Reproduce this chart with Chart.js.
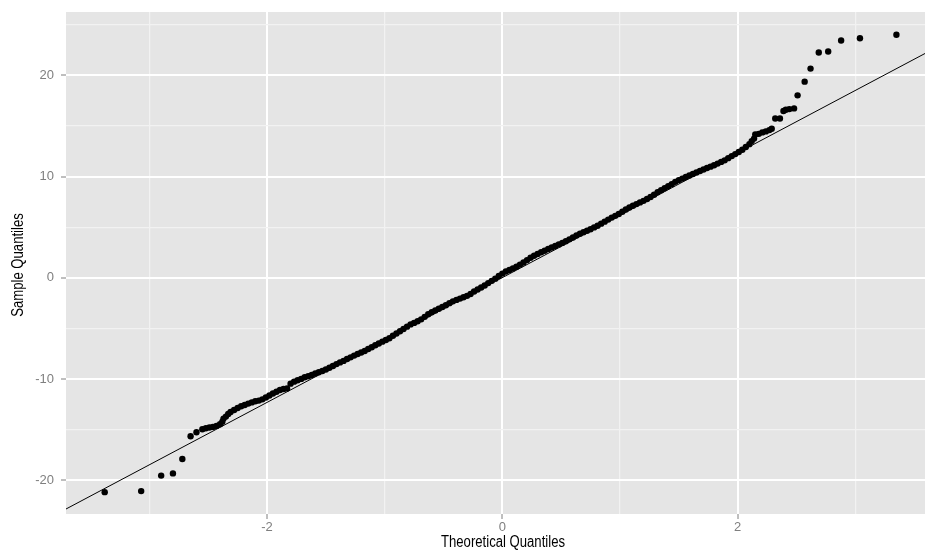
<!DOCTYPE html>
<html>
<head>
<meta charset="utf-8">
<title>Normal Q-Q plot</title>
<script src="https://cdn.jsdelivr.net/npm/chart.js@4.4.1/dist/chart.umd.min.js"></script>
<style>
  body { margin: 0; background: #ffffff; }
  canvas { display: block; }
</style>
</head>
<body>
<canvas id="qqChart" width="925" height="552"></canvas>
<script>
// theoretical quantiles (x) and matching sample quantiles (y)
const theoretical = [
    -3.38, -3.07, -2.90, -2.80, -2.72, -2.65, -2.60, -2.55, -2.52, -2.49,
    -2.46, -2.43, -2.40, -2.38, -2.37, -2.35, -2.33, -2.31,
    -2.28, -2.25, -2.22, -2.19, -2.16, -2.13, -2.10, -2.07, -2.04, -2.01,
    -1.98, -1.95, -1.92, -1.89, -1.86, -1.83, -1.80, -1.77, -1.74, -1.71,
    -1.68, -1.65, -1.62, -1.59, -1.56, -1.53, -1.50, -1.47, -1.44, -1.41,
    -1.38, -1.35, -1.32, -1.29, -1.26, -1.23, -1.20, -1.17, -1.14, -1.11,
    -1.08, -1.05, -1.02, -0.99, -0.96, -0.93, -0.90, -0.87, -0.84, -0.81,
    -0.78, -0.75, -0.72, -0.69, -0.66, -0.63, -0.60, -0.57, -0.54, -0.51,
    -0.48, -0.45, -0.42, -0.39, -0.36, -0.33, -0.30, -0.27, -0.24, -0.21,
    -0.18, -0.15, -0.12, -0.09, -0.06, -0.03, 0.00, 0.03, 0.06, 0.09,
    0.12, 0.15, 0.18, 0.21, 0.24, 0.27, 0.30, 0.33, 0.36, 0.39,
    0.42, 0.45, 0.48, 0.51, 0.54, 0.57, 0.60, 0.63, 0.66, 0.69,
    0.72, 0.75, 0.78, 0.81, 0.84, 0.87, 0.90, 0.93, 0.96, 0.99,
    1.02, 1.05, 1.08, 1.11, 1.14, 1.17, 1.20, 1.23, 1.26, 1.29,
    1.32, 1.35, 1.38, 1.41, 1.44, 1.47, 1.50, 1.53, 1.56, 1.59,
    1.62, 1.65, 1.68, 1.71, 1.74, 1.77, 1.80, 1.83, 1.86, 1.89,
    1.92, 1.95, 1.98, 2.01, 2.04, 2.07, 2.10, 2.12, 2.14,
    2.15, 2.18, 2.21, 2.24, 2.27, 2.29, 2.32, 2.36, 2.39, 2.41,
    2.44, 2.48, 2.51, 2.57, 2.62, 2.69, 2.77, 2.88, 3.04, 3.35
];
const sample = [
    -21.16, -21.06, -19.53, -19.31, -17.89, -15.64, -15.25, -14.95, -14.85, -14.78,
    -14.72, -14.62, -14.46, -14.20, -13.90, -13.70, -13.45, -13.25,
    -13.05, -12.85, -12.68, -12.55, -12.42, -12.30, -12.18, -12.12, -12.00, -11.82,
    -11.62, -11.42, -11.25, -11.08, -10.98, -10.92, -10.45, -10.25, -10.12, -9.98,
    -9.82, -9.72, -9.60, -9.45, -9.32, -9.20, -9.05, -8.88, -8.70, -8.52,
    -8.35, -8.20, -8.02, -7.85, -7.68, -7.52, -7.38, -7.22, -7.02, -6.85,
    -6.65, -6.48, -6.30, -6.14, -5.97, -5.72, -5.50, -5.28, -5.05, -4.82,
    -4.60, -4.45, -4.28, -4.10, -3.85, -3.60, -3.40, -3.22, -3.05, -2.88,
    -2.70, -2.50, -2.32, -2.18, -2.05, -1.92, -1.78, -1.60, -1.35, -1.15,
    -0.95, -0.75, -0.52, -0.30, -0.08, 0.18, 0.42, 0.62, 0.78, 0.92,
    1.10, 1.30, 1.52, 1.75, 1.98, 2.18, 2.35, 2.52, 2.68, 2.85,
    3.00, 3.15, 3.30, 3.45, 3.62, 3.80, 3.98, 4.18, 4.35, 4.50,
    4.65, 4.80, 4.98, 5.15, 5.35, 5.55, 5.75, 5.95, 6.12, 6.30,
    6.52, 6.75, 6.95, 7.12, 7.28, 7.45, 7.60, 7.78, 7.98, 8.20,
    8.45, 8.65, 8.85, 9.05, 9.25, 9.48, 9.65, 9.80, 9.95, 10.10,
    10.25, 10.40, 10.55, 10.70, 10.85, 10.98, 11.12, 11.28, 11.45, 11.60,
    11.82, 12.02, 12.22, 12.42, 12.65, 12.92, 13.20, 13.50, 13.75,
    14.16, 14.22, 14.36, 14.46, 14.59, 14.72, 15.74, 15.74, 16.47, 16.60,
    16.66, 16.73, 18.02, 19.37, 20.66, 22.25, 22.35, 23.43, 23.66, 24.00
];

// grid lines every unit, labels on the even ones only
const xTicks = [-3, -2, -1, 0, 1, 2, 3];
const xLabels = [-2, 0, 2];
const yTicks = [-20, -15, -10, -5, 0, 5, 10, 15, 20, 25];
const yLabels = [-20, -10, 0, 10, 20];

const xRange = [-3.709, 3.593];
const yRange = [-23.32, 26.25];

const xTitle = 'Theoretical Quantiles';
const yTitle = 'Sample Quantiles';

// reference line through the quartiles
const lineIntercept = 0.02;
const lineSlope = 6.16;

const points = theoretical.map((x, i) => ({ x: x, y: sample[i] }));
const refLine = xRange.map(x => ({ x: x, y: lineIntercept + lineSlope * x }));

const panelBackground = {
    id: 'panelBackground',
    beforeDraw(chart) {
        const { ctx, chartArea } = chart;
        ctx.save();
        ctx.fillStyle = '#e5e5e5';
        ctx.fillRect(chartArea.left, chartArea.top, chartArea.right - chartArea.left, chartArea.bottom - chartArea.top);
        ctx.restore();
    }
};

// axis titles in a narrow face (squeezed Liberation Sans)
const axisTitles = {
    id: 'axisTitles',
    afterDraw(chart) {
        const { ctx, chartArea } = chart;
        ctx.save();
        ctx.fillStyle = '#000000';
        ctx.font = '16px "Liberation Sans", Arial, sans-serif';
        ctx.textAlign = 'center';
        ctx.textBaseline = 'alphabetic';

        ctx.save();
        ctx.translate(503, 547);
        ctx.scale(0.82, 1);
        ctx.fillText(xTitle, 0, 0);
        ctx.restore();

        ctx.save();
        ctx.translate(22.5, (chartArea.top + chartArea.bottom) / 2 + 2);
        ctx.rotate(-Math.PI / 2);
        ctx.scale(0.82, 1);
        ctx.fillText(yTitle, 0, 0);
        ctx.restore();

        ctx.restore();
    }
};

function gridStyle(labels) {
    return {
        color: ctx => labels.includes(ctx.tick.value) ? '#ffffff' : '#f2f2f2',
        lineWidth: ctx => labels.includes(ctx.tick.value) ? 2 : 1.2,
        tickColor: ctx => labels.includes(ctx.tick.value) ? '#7f7f7f' : 'rgba(0,0,0,0)',
        tickWidth: 1,
        tickLength: 5,
        drawTicks: true
    };
}

const tickFont = { family: 'Liberation Sans, Arial, sans-serif', size: 13 };

new Chart(document.getElementById('qqChart'), {
    type: 'scatter',
    data: {
        datasets: [
            {
                type: 'line',
                data: refLine,
                borderColor: '#000000',
                borderWidth: 1,
                pointRadius: 0,
                fill: false
            },
            {
                data: points,
                backgroundColor: '#000000',
                borderColor: '#000000',
                borderWidth: 0,
                pointRadius: 3.2,
                pointHoverRadius: 3.2
            }
        ]
    },
    options: {
        responsive: false,
        animation: false,
        layout: { autoPadding: false, padding: { top: 12, right: 0, left: 0, bottom: 0 } },
        plugins: {
            legend: { display: false },
            tooltip: { enabled: false }
        },
        scales: {
            x: {
                type: 'linear',
                min: xRange[0],
                max: xRange[1],
                afterBuildTicks: scale => { scale.ticks = xTicks.map(v => ({ value: v })); },
                afterFit: scale => {
                    scale.height = 38;
                    scale.paddingLeft = 0;
                    scale.paddingRight = 0;
                },
                grid: gridStyle(xLabels),
                border: { display: false },
                ticks: {
                    color: '#7f7f7f',
                    font: tickFont,
                    padding: 1,
                    maxRotation: 0,
                    callback: v => xLabels.includes(v) ? String(v) : ''
                }
            },
            y: {
                type: 'linear',
                min: yRange[0],
                max: yRange[1],
                afterBuildTicks: scale => { scale.ticks = yTicks.map(v => ({ value: v })); },
                afterFit: scale => {
                    scale.width = 66;
                    scale.paddingTop = 0;
                    scale.paddingBottom = 0;
                },
                grid: gridStyle(yLabels),
                border: { display: false },
                ticks: {
                    color: '#7f7f7f',
                    font: tickFont,
                    padding: 7,
                    callback: v => yLabels.includes(v) ? String(v) : ''
                }
            }
        }
    },
    plugins: [panelBackground, axisTitles]
});
</script>
</body>
</html>
